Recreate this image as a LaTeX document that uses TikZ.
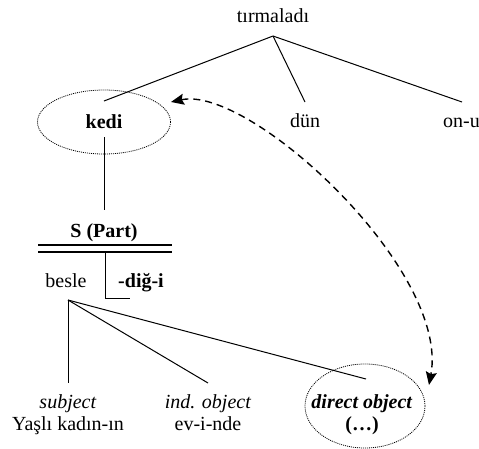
\documentclass[tikz,border=0pt]{standalone}
\usepackage{fontspec}
\setmainfont{Liberation Serif}
\usetikzlibrary{arrows.meta,shapes.geometric}
\tikzset{
  txt/.style={font=\fontsize{20}{22}\selectfont, inner sep=0pt, anchor=base},
  ell/.style={draw, ellipse, line width=0.8pt, dash pattern=on 1pt off 1pt, inner sep=0pt},
  br/.style={line width=1pt},
  tipS/.style={},
  dasharrow/.style={line width=1.4pt, dash pattern=on 7pt off 5pt,
    {Stealth[length=13pt,width=11pt,inset=2pt]}-{Stealth[length=13pt,width=11pt,inset=2pt]}}
}
\begin{document}
\begin{tikzpicture}[x=1pt,y=-1pt]
\useasboundingbox (0,0) rectangle (479,448);
% top
\node[txt] (top) at (273,22) {tırmaladı};
\coordinate (apex) at (273,36);
% ellipses
\node[ell, minimum width=133pt, minimum height=64pt] (kediE) at (104,122) {};
\node[ell, minimum width=120pt, minimum height=84pt] (dobjE) at (365,406) {};
% level 1
\node[txt] (kedi) at (104,128) {\textbf{kedi}};
\node[txt] (dun) at (305,127) {dün};
\node[txt, anchor=base west] (onu) at (443,127) {on-u};
\coordinate (kediT) at (104,101);
\coordinate (dunT) at (305,102);
\coordinate (onuT) at (462,102);
\draw[br] (apex) -- (kediT);
\draw[br] (apex) -- (dunT);
\draw[br] (apex) -- (onuT);
% kedi to S
\coordinate (kediB) at (104,137);
\coordinate (sT) at (104,210);
\draw[br] (kediB) -- (sT);
\node[txt] (spart) at (104,237) {\textbf{S (Part)}};
\coordinate (d1L) at (38,245);
\coordinate (d1R) at (172,245);
\coordinate (d2L) at (38,252);
\coordinate (d2R) at (172,252);
\draw[line width=1.3pt] (d1L) -- (d1R);
\draw[line width=1.3pt] (d2L) -- (d2R);
\coordinate (hookT) at (105,252);
\coordinate (hookC) at (105,298);
\coordinate (hookE) at (130,298);
\draw[br] (hookT) -- (hookC) -- (hookE);
\node[txt] (besle) at (66,287) {besle};
\node[txt] (dig) at (141,287) {\textbf{-diğ-i}};
% besle branches
\coordinate (bapex) at (68,300);
\coordinate (subjT) at (68,383);
\coordinate (indT) at (208,383);
\coordinate (dobjT) at (366,379);
\draw[br] (bapex) -- (subjT);
\draw[br] (bapex) -- (indT);
\draw[br] (bapex) -- (dobjT);
% bottom labels
\node[txt] (subj) at (68,408) {\textit{subject}};
\node[txt] (subjw) at (68,430) {Yaşlı kadın-ın};
\node[txt] (ind) at (208,408) {\textit{ind. object}};
\node[txt] (indw) at (208,430) {ev-i-nde};
\node[txt] (dobj) at (362,408) {\textbf{\textit{direct object}}};
\node[txt] (dobjw) at (362,430) {\textbf{(…)}};
% dashed arrow
\coordinate (arrA) at (171,102);
\coordinate (arrB) at (429,385);
\draw[dasharrow] (arrA) .. controls (250,85) and (450,270) .. (arrB);
\end{tikzpicture}
\end{document}
